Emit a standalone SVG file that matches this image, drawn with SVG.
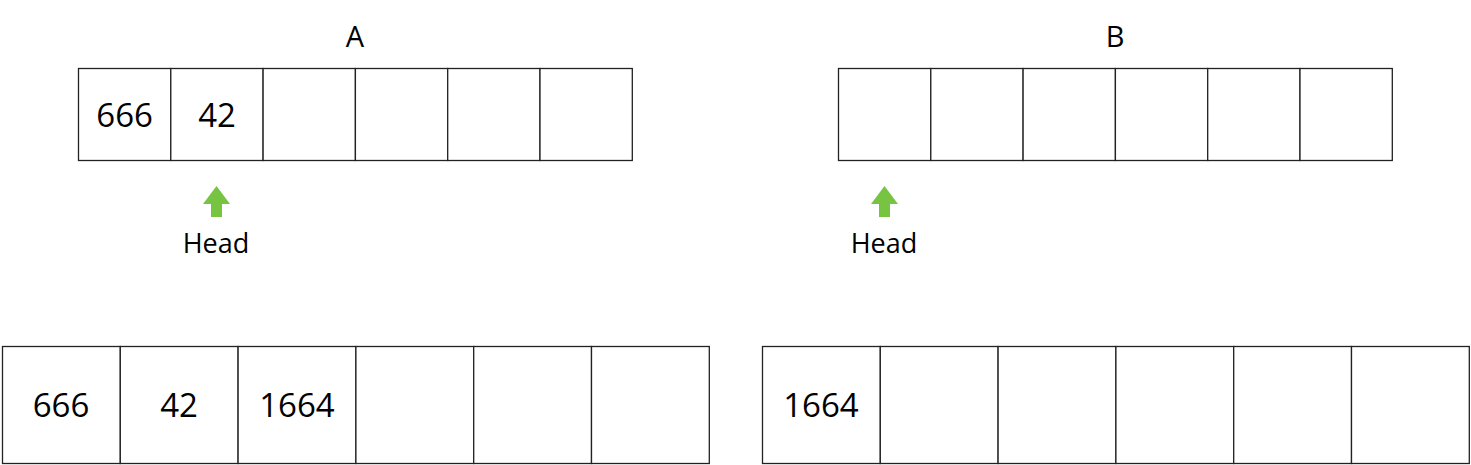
<svg xmlns="http://www.w3.org/2000/svg" width="1471" height="465" viewBox="0 0 1471 465">
<style>
.cell{fill:#fff;stroke:#222;stroke-width:1.3}
.t{font-family:"Open Sans","Noto Sans",sans-serif;fill:#000;text-anchor:middle}
.num{font-size:33px}
.lbl{font-size:27px}
.ttl{font-size:29px}
.arr{fill:#76c442}
</style>
<rect width="1471" height="465" fill="#fff"/>
<g id="titleA"><text class="t ttl" x="355" y="47">A</text></g>
<g id="titleB"><text class="t ttl" x="1115" y="47">B</text></g>
<g id="arrayA-top">
<rect class="cell" x="78.5" y="68.5" width="92.3" height="92"/>
<rect class="cell" x="170.8" y="68.5" width="92.3" height="92"/>
<rect class="cell" x="263.1" y="68.5" width="92.3" height="92"/>
<rect class="cell" x="355.4" y="68.5" width="92.3" height="92"/>
<rect class="cell" x="447.7" y="68.5" width="92.3" height="92"/>
<rect class="cell" x="540" y="68.5" width="92.3" height="92"/>
<text class="t num" x="124.6" y="127">666</text>
<text class="t num" x="217" y="127">42</text>
</g>
<g id="arrayB-top">
<rect class="cell" x="838.5" y="68.5" width="92.3" height="92"/>
<rect class="cell" x="930.8" y="68.5" width="92.3" height="92"/>
<rect class="cell" x="1023.1" y="68.5" width="92.3" height="92"/>
<rect class="cell" x="1115.4" y="68.5" width="92.3" height="92"/>
<rect class="cell" x="1207.7" y="68.5" width="92.3" height="92"/>
<rect class="cell" x="1300" y="68.5" width="92.3" height="92"/>
</g>
<g id="headA">
<polygon class="arr" points="216.5,186 230,204 222,204 222,217 211,217 211,204 203,204"/>
<text class="t lbl" x="216" y="253">Head</text>
</g>
<g id="headB">
<polygon class="arr" points="884.5,186 898,204 890,204 890,217 879,217 879,204 871,204"/>
<text class="t lbl" x="884" y="253">Head</text>
</g>
<g id="arrayA-bottom">
<rect class="cell" x="2.5" y="346.5" width="117.8" height="117"/>
<rect class="cell" x="120.3" y="346.5" width="117.8" height="117"/>
<rect class="cell" x="238.1" y="346.5" width="117.8" height="117"/>
<rect class="cell" x="355.9" y="346.5" width="117.8" height="117"/>
<rect class="cell" x="473.7" y="346.5" width="117.8" height="117"/>
<rect class="cell" x="591.5" y="346.5" width="117.8" height="117"/>
<text class="t num" x="61" y="417">666</text>
<text class="t num" x="179" y="417">42</text>
<text class="t num" x="297" y="417">1664</text>
</g>
<g id="arrayB-bottom">
<rect class="cell" x="762.5" y="346.5" width="117.8" height="117"/>
<rect class="cell" x="880.3" y="346.5" width="117.8" height="117"/>
<rect class="cell" x="998.1" y="346.5" width="117.8" height="117"/>
<rect class="cell" x="1115.9" y="346.5" width="117.8" height="117"/>
<rect class="cell" x="1233.7" y="346.5" width="117.8" height="117"/>
<rect class="cell" x="1351.5" y="346.5" width="117.8" height="117"/>
<text class="t num" x="821" y="417">1664</text>
</g>
<g id="connectors"></g>
</svg>
